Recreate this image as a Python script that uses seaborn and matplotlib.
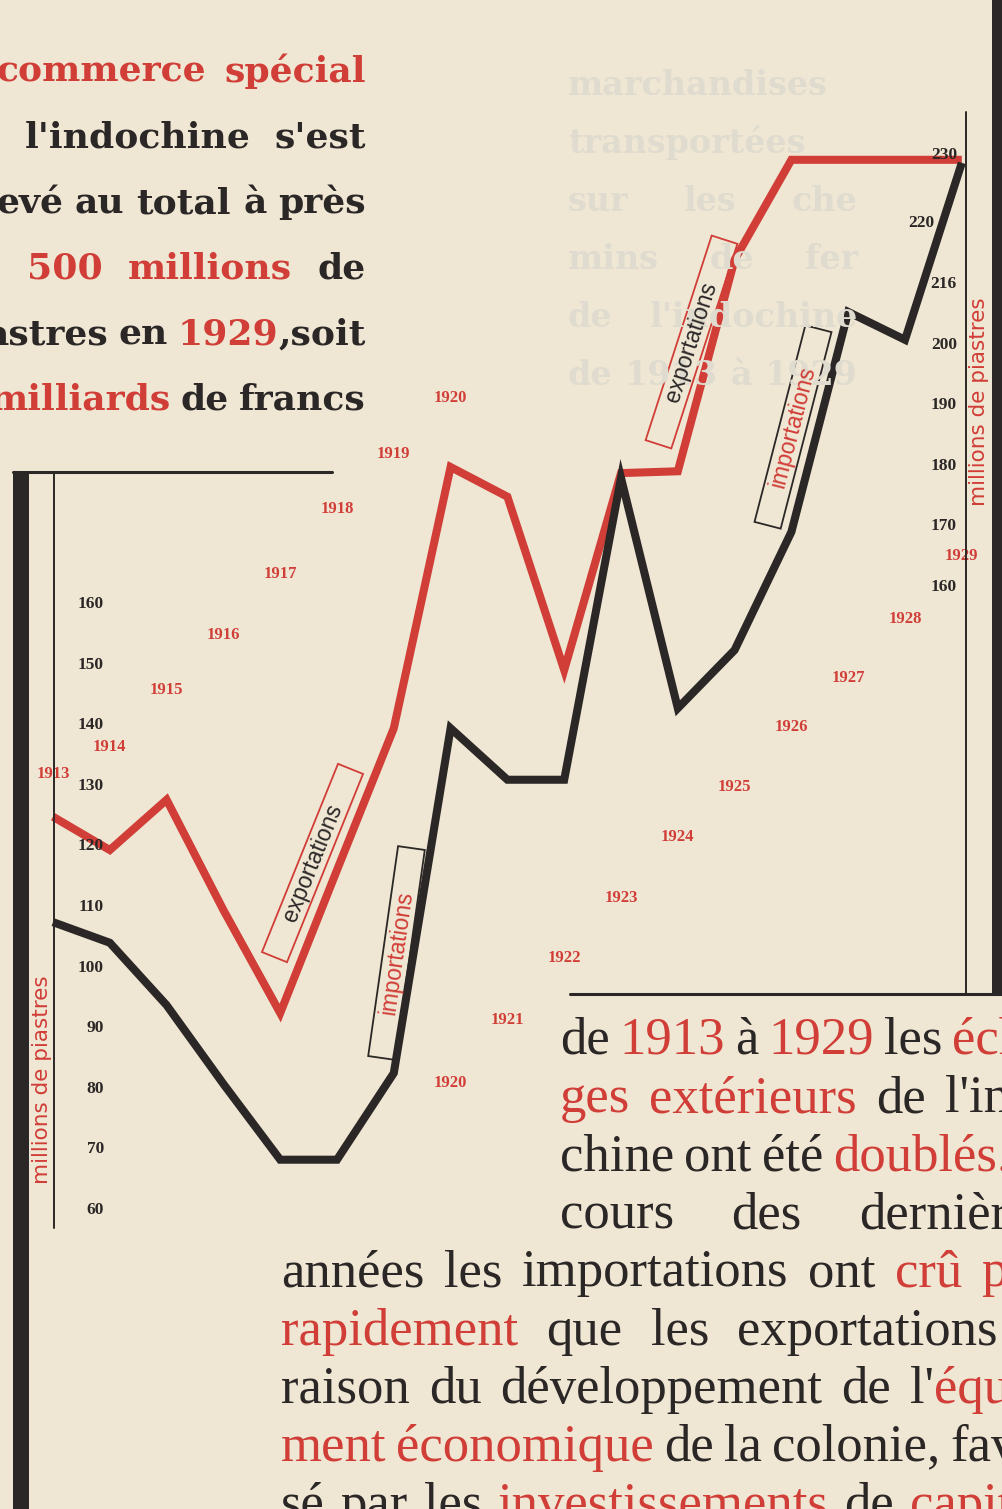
import pandas as pd
import seaborn as sns
import matplotlib.pyplot as plt
import matplotlib.transforms as mtransforms
from matplotlib.patches import Rectangle
from matplotlib.lines import Line2D

# values, in millions de piastres
YEARS = list(range(1913, 1930))
EXPORTS = [124.9, 119.4, 127.7, 109.5, 92.5, 116.1, 139.5, 182.6, 177.7,
           149.1, 181.6, 181.9, 216.8, 233.3, 233.3, 233.3, 233.3]
IMPORTS = [107.5, 104.1, 93.8, 80.8, 68.3, 68.3, 82.6, 139.5, 131.0,
           131.0, 180.8, 142.8, 152.4, 171.9, 208.2, 203.6, 232.8]

LEFT_TICKS = [60, 70, 80, 90, 100, 110, 120, 130, 140, 150, 160]
RIGHT_TICKS = [160, 170, 180, 190, 200, 210, 220, 230]
RIGHT_TICK_LABELS = ["160", "170", "180", "190", "200", "216", "220", "230"]

# year labels printed along two diagonals
UPPER_YEARS = list(range(1913, 1921))
UPPER_YEAR_Y = [132.0, 136.4, 145.8, 154.9, 165.0, 175.7, 184.8, 194.0]
LOWER_YEARS = list(range(1920, 1930))
LOWER_YEAR_Y = [81.0, 91.4, 101.6, 111.5, 121.6, 129.8, 139.7, 147.8, 157.5, 167.9]

# *word* = red
TOP_TEXT = [
    "*commerce* *spécial*",
    "l'indochine s'est",
    "evé au total à près",
    "*500* *millions* de",
    "astres en *1929*,soit",
    "*milliards* de francs",
]
BOTTOM_TEXT = [
    "de *1913* à *1929* les *éch*",
    "*ges* *extérieurs* de l'in",
    "chine ont été *doublés.*",
    "cours des dernièr",
    "années les importations ont *crû* *p*",
    "*rapidement* que les exportations",
    "raison du développement de l'*équ*",
    "*ment* *économique* de la colonie, fav",
    "sé par les *investissements* de *capit*",
]
GHOST_TEXT = ["marchandises", "transportées", "sur les che", "mins de fer",
              "de l'indochine", "de 1913 à 1929"]

W, H = 1003, 1509
PAPER = "#efe7d4"
RED = "#d13d37"
INK = "#2b2726"
GHOST = "#dfdbcf"

# where the value scale sits on the page
X_PX0, PX_PER_YEAR = 53, 56.8
Y_PX160, PX_PER_UNIT = 604, 6.06
RIGHT_SHIFT = 2.8

sns.set_theme(style="white", rc={"figure.facecolor": PAPER, "axes.facecolor": PAPER})
plt.rcParams["font.family"] = ["DejaVu Sans"]

fig = plt.figure(figsize=(W / 100, H / 100), dpi=100)
renderer = fig.canvas.get_renderer()
ax = fig.add_axes([0, 0, 1, 1])
ax.set_xlim(1913 - X_PX0 / PX_PER_YEAR, 1913 + (W - X_PX0) / PX_PER_YEAR)
ylim = (160 - (H - Y_PX160) / PX_PER_UNIT, 160 + Y_PX160 / PX_PER_UNIT)
ax.set_ylim(*ylim)
ax.axis("off")


def fx(x):
    return x / W


def fy(y):
    return 1 - y / H


def put_line(markup, x0, x1, base, min_gap=9, anchor="left", **kw):
    """Justified line between x0 and x1 (pixels); never tighter than min_gap."""
    words = []
    for w in markup.split():
        runs = [(s, RED if i % 2 else kw.get("color", INK))
                for i, s in enumerate(w.split("*")) if s]
        words.append(runs)
    style = {k: v for k, v in kw.items() if k != "color"}
    widths = []
    for runs in words:
        ws = []
        for s, c in runs:
            t = fig.text(0, 0, s, **style)
            ws.append(t.get_window_extent(renderer).width)
            t.remove()
        widths.append(ws)
    total = sum(sum(ws) for ws in widths)
    n = max(len(words) - 1, 1)
    gap = (x1 - x0 - total) / n
    if gap < min_gap:
        gap = min_gap
        if anchor == "right":
            x0 = x1 - total - gap * n
    x = x0
    for runs, ws in zip(words, widths):
        for (s, c), w in zip(runs, ws):
            fig.text(fx(x), fy(base), s, color=c, va="baseline", ha="left", **style)
            x += w
        x += gap


# faint show-through from the back of the page
for i, s in enumerate(GHOST_TEXT):
    put_line(s, 568, 858, 95 + 58 * i, color=GHOST, family="DejaVu Serif",
             weight="bold", fontsize=24)

# frame
def bar(x0, x1, y0, y1):
    fig.add_artist(Rectangle((fx(x0), fy(y1)), (x1 - x0) / W, (y1 - y0) / H,
                             transform=fig.transFigure, color=INK, lw=0))


def rule(x0, y0, x1, y1, lw):
    fig.add_artist(Line2D([fx(x0), fx(x1)], [fy(y0), fy(y1)], color=INK, lw=lw,
                          transform=fig.transFigure))


bar(13, 29, 472, H)
bar(992, W, 0, 994)
rule(13, 472, 332, 472, 2.2)
rule(54, 472, 54, 1228, 1.4)
rule(966, 112, 966, 994, 1.4)
rule(570, 994, W, 994, 2.2)

df = pd.DataFrame({
    "year": YEARS * 2,
    "value": EXPORTS + IMPORTS,
    "flux": ["exportations"] * len(YEARS) + ["importations"] * len(YEARS),
})
sns.lineplot(data=df, x="year", y="value", hue="flux", estimator=None,
             palette={"exportations": RED, "importations": INK},
             linewidth=5.8, legend=False, ax=ax)
for line in ax.lines:
    line.set_solid_joinstyle("miter")
    line.set_solid_capstyle("butt")
ax.lines[1].set_zorder(3)

# scales
left_tr = mtransforms.blended_transform_factory(ax.transAxes, ax.transData)
for v in LEFT_TICKS:
    ax.text(fx(104), v, str(v), transform=left_tr, ha="right", va="center",
            fontsize=12.5, family="Liberation Serif", weight="bold", color=INK)

ax2 = ax.twinx()
ax2.set_ylim(ylim[0] - RIGHT_SHIFT, ylim[1] - RIGHT_SHIFT)
ax2.axis("off")
right_tr = mtransforms.blended_transform_factory(ax2.transAxes, ax2.transData)
for v, lab in zip(RIGHT_TICKS, RIGHT_TICK_LABELS):
    xr = 934 if lab == "220" else 957
    ax2.text(fx(xr), v, lab, transform=right_tr, ha="right",
             va="bottom" if lab == "230" else "center",
             fontsize=12.5, family="Liberation Serif", weight="bold", color=INK)

for yr, yv in zip(UPPER_YEARS + LOWER_YEARS, UPPER_YEAR_Y + LOWER_YEAR_Y):
    ax.text(yr, yv, str(yr), ha="center", va="center", color=RED,
            fontsize=12, family="Liberation Serif", weight="bold")

fig.text(fx(42), fy(1080), "millions de piastres", rotation=90, ha="center",
         va="center", color=RED, fontsize=15.5, family="DejaVu Sans")
fig.text(fx(979), fy(402), "millions de piastres", rotation=90, ha="center",
         va="center", color=RED, fontsize=15.5, family="DejaVu Sans")


def label_box(cx, cy, length, angle, text, edge, tcolor):
    tr = (mtransforms.Affine2D().rotate_deg(angle).translate(cx, H - cy)
          .scale(1 / W, 1 / H) + fig.transFigure)
    fig.add_artist(Rectangle((-length / 2, -13.5), length, 27, transform=tr,
                             fill=False, ec=edge, lw=1.3))
    fig.text(fx(cx), fy(cy), text, rotation=angle, rotation_mode="anchor",
             ha="center", va="center", color=tcolor, fontsize=16.5,
             family="Liberation Sans")


label_box(312.5, 863, 203, 68.0, "exportations", RED, INK)
label_box(396.5, 953, 212, 81.9, "importations", INK, RED)
label_box(691.5, 342, 215, 72.1, "exportations", RED, INK)
label_box(793, 427, 203, 75.5, "importations", INK, RED)

# text blocks
for i, s in enumerate(TOP_TEXT):
    x0 = [-3, 25, -4, 27, -2, -8][i]
    put_line(s, x0, 366, 82 + 65.6 * i, min_gap=10, anchor="right",
             family="DejaVu Serif", weight="bold", fontsize=26)

for i, s in enumerate(BOTTOM_TEXT):
    x0 = 560 if i < 4 else 281
    x1 = [1012, 1010, 1000, 1008, 1008, 998, 1010, 1008, 1012][i]
    put_line(s, x0, x1, 1054 + 58.1 * i, min_gap=10,
             family="Liberation Serif", fontsize=38)

fig.savefig("out.png", dpi=100, facecolor=PAPER)
